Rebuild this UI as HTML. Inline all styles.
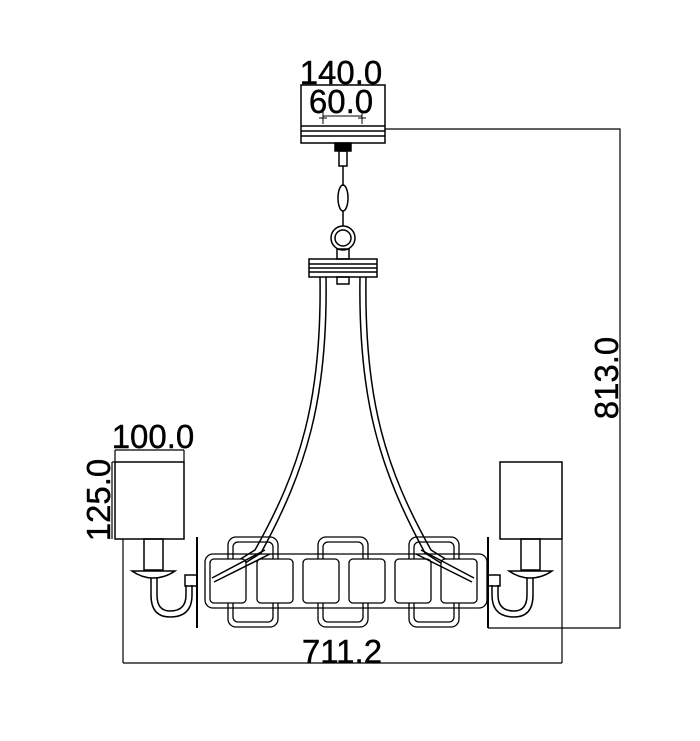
<!DOCTYPE html>
<html><head><meta charset="utf-8"><style>html,body{margin:0;padding:0;background:#fff}svg{display:block}</style></head>
<body>
<svg width="700" height="741" viewBox="0 0 700 741" xmlns="http://www.w3.org/2000/svg" font-family="Liberation Sans, sans-serif">
<g fill="none" stroke="#000" stroke-width="1.5">
<rect x="301" y="85" width="84" height="58"/>
<line x1="301" y1="126" x2="385" y2="126"/>
<line x1="301" y1="131" x2="385" y2="131"/>
<line x1="301" y1="136" x2="385" y2="136"/>
<line x1="323" y1="116" x2="362" y2="116" stroke-width="1"/>
<line x1="323" y1="112" x2="323" y2="124" stroke-width="1"/><line x1="319" y1="118" x2="327" y2="118" stroke-width="1"/>
<line x1="362" y1="112" x2="362" y2="124" stroke-width="1"/><line x1="358" y1="118" x2="366" y2="118" stroke-width="1"/>
<polyline points="385,129 620,129 620,628 488,628" stroke-width="1.2"/>
<rect x="335" y="143" width="16" height="8" fill="#000"/>
<rect x="339" y="151" width="8" height="15"/>
<line x1="343" y1="166" x2="343" y2="186"/>
<ellipse cx="343" cy="198" rx="5" ry="13"/>
<line x1="343" y1="211" x2="343" y2="226"/>
<circle cx="343" cy="238" r="12"/>
<circle cx="343" cy="238" r="8"/>
<rect x="337" y="249" width="12" height="10"/>
<rect x="309" y="259" width="68" height="18"/>
<line x1="309" y1="264" x2="377" y2="264"/>
<line x1="309" y1="268" x2="377" y2="268"/>
<line x1="309" y1="272" x2="377" y2="272"/>
<rect x="337" y="277" width="12" height="7"/>
<path d="M320,277 C322,400 300,470 255,550 L210,578"/>
<path d="M326,277 C328,400 306,470 261,553 L212,584"/>
<path d="M366,277 C364,400 386,470 431,550 L476,578"/>
<path d="M360,277 C358,400 380,470 425,553 L474,584"/>
<g stroke-width="1.3">
<rect x="205" y="554" width="282" height="54" rx="8"/>
<rect x="228" y="537" width="50" height="90" rx="8"/>
<rect x="318" y="537" width="50" height="90" rx="8"/>
<rect x="409" y="537" width="50" height="90" rx="8"/>
<rect x="233" y="542" width="40" height="80" rx="5"/>
<rect x="323" y="542" width="40" height="80" rx="5"/>
<rect x="414" y="542" width="40" height="80" rx="5"/>
<rect x="210" y="559" width="36" height="44" rx="4" fill="#fff"/>
<rect x="257" y="559" width="36" height="44" rx="4" fill="#fff"/>
<rect x="303" y="559" width="36" height="44" rx="4" fill="#fff"/>
<rect x="349" y="559" width="36" height="44" rx="4" fill="#fff"/>
<rect x="395" y="559" width="36" height="44" rx="4" fill="#fff"/>
<rect x="441" y="559" width="36" height="44" rx="4" fill="#fff"/>
</g>
<path d="M265,550 L212,578 M270,554 L214,582"/>
<path d="M421,550 L474,578 M416,554 L472,582"/>
<line x1="197" y1="537" x2="197" y2="628" stroke-width="2"/>
<line x1="488" y1="537" x2="488" y2="628" stroke-width="2"/>
<rect x="115" y="462" width="69" height="77"/>
<rect x="144" y="539" width="19" height="31"/>
<path d="M132,571 L175,571 Q165,578 153,578 Q142,578 132,571 Z"/>
<path d="M151,578 L151,595 Q151,617 170,617 Q192,617 192,595 L192,585"/>
<path d="M157,578 L157,595 Q157,611 170,611 Q186,611 186,595 L186,585"/>
<rect x="185" y="575" width="12" height="11"/>
<rect x="500" y="462" width="62" height="77"/>
<rect x="521" y="539" width="19" height="31"/>
<path d="M509,571 L552,571 Q542,578 530,578 Q519,578 509,571 Z"/>
<path d="M533,578 L533,595 Q533,617 514,617 Q492,617 492,595 L492,585"/>
<path d="M527,578 L527,595 Q527,611 514,611 Q498,611 498,595 L498,585"/>
<rect x="488" y="575" width="12" height="11"/>
<g stroke-width="1.2">
<line x1="115" y1="450" x2="184" y2="450"/>
<line x1="115" y1="450" x2="115" y2="462"/><line x1="184" y1="450" x2="184" y2="462"/>
<line x1="112" y1="462" x2="115" y2="462"/>
<line x1="112" y1="462" x2="112" y2="539"/>
<line x1="123" y1="539" x2="123" y2="663"/>
<line x1="123" y1="663" x2="562" y2="663"/>
<line x1="562" y1="539" x2="562" y2="663"/>
</g>
</g>
<g fill="#000" font-size="33" stroke="#000" stroke-width="0.4">
<text x="341" y="84" text-anchor="middle">140.0</text>
<text x="341" y="113" text-anchor="middle">60.0</text>
<text x="153" y="448" text-anchor="middle">100.0</text>
<text x="342" y="663" text-anchor="middle">711.2</text>
<text transform="translate(110,500) rotate(-90)" text-anchor="middle">125.0</text>
<text transform="translate(618,378) rotate(-90)" text-anchor="middle">813.0</text>
</g>
</svg>
</body></html>
